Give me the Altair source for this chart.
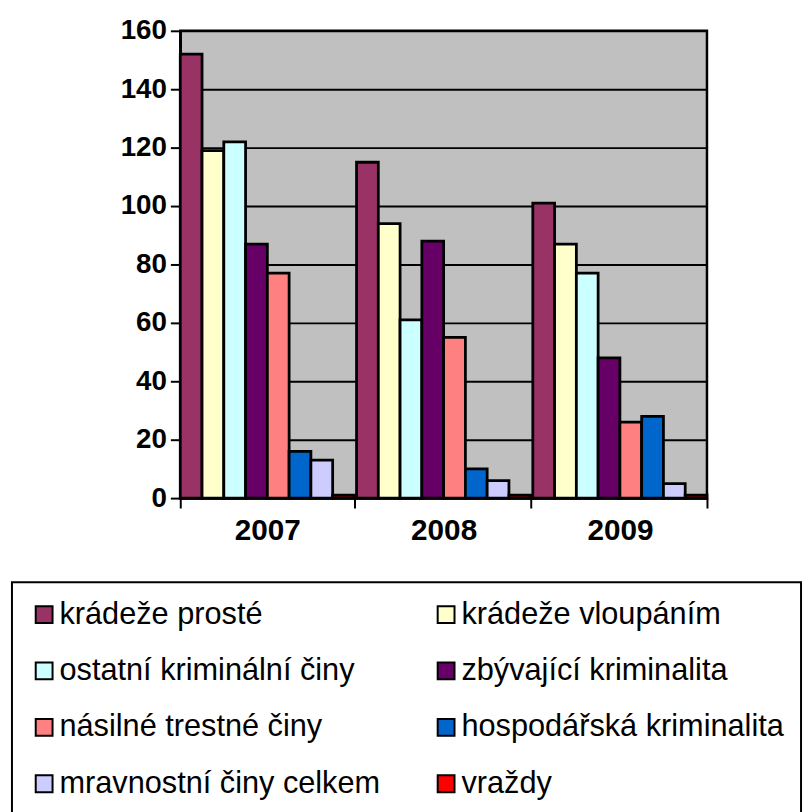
import altair as alt
import pandas as pd

years = ["2007", "2008", "2009"]
series = [
    "krádeže prosté",
    "krádeže vloupáním",
    "ostatní kriminální činy",
    "zbývající kriminalita",
    "násilné trestné činy",
    "hospodářská kriminalita",
    "mravnostní činy celkem",
    "vraždy",
]
colors = ["#993366", "#FFFFCC", "#CCFFFF", "#660066", "#FF8080", "#0066CC", "#CCCCFF", "#FF0000"]

kradeze_proste = [152, 115, 101]
kradeze_vloupanim = [119, 94, 87]
ostatni = [122, 61, 77]
zbyvajici = [87, 88, 48]
nasilne = [77, 55, 26]
hospodarska = [16, 10, 28]
mravnostni = [13, 6, 5]
vrazdy = [1, 1, 1]

values = [kradeze_proste, kradeze_vloupanim, ostatni, zbyvajici, nasilne, hospodarska, mravnostni, vrazdy]

rows = []
for s, vals in zip(series, values):
    for y, v in zip(years, vals):
        rows.append({"rok": y, "řada": s, "hodnota": v})
df = pd.DataFrame(rows)

FONT = "Liberation Sans"

chart = alt.Chart(df).mark_bar(stroke="black", strokeWidth=2.8).encode(
    x=alt.X("rok:N", title=None, sort=years,
            scale=alt.Scale(paddingInner=0.012, paddingOuter=0.0),
            axis=alt.Axis(labelAngle=0, labelFont=FONT, labelFontSize=30, labelFontWeight="bold",
                          labelColor="black", tickBand="extent", tickSize=10, tickWidth=2,
                          tickColor="black", domainColor="black", domainWidth=2.5,
                          labelPadding=8)),
    xOffset=alt.XOffset("řada:N", sort=series, scale=alt.Scale(paddingInner=0, paddingOuter=0)),
    y=alt.Y("hodnota:Q", title=None,
            scale=alt.Scale(domain=[0, 160], nice=False),
            axis=alt.Axis(values=list(range(0, 161, 20)), labelFont=FONT, labelFontSize=28,
                          labelFontWeight="bold", labelColor="black", tickSize=10, tickWidth=2,
                          tickColor="black", domainColor="black", domainWidth=2.5,
                          grid=True, gridColor="black", gridWidth=2, gridOpacity=1,
                          labelPadding=4)),
    color=alt.Color("řada:N", sort=series,
                    scale=alt.Scale(domain=series, range=colors),
                    legend=alt.Legend(title=None, orient="none", legendX=-170, legendY=557,
                                      columns=2, direction="horizontal",
                                      symbolType="square", symbolSize=289,
                                      symbolStrokeColor="black", symbolStrokeWidth=2,
                                      symbolOpacity=1,
                                      labelFont=FONT, labelFontSize=31, labelColor="black",
                                      labelOffset=0, rowPadding=25, columnPadding=51,
                                      padding=17, strokeColor="black",
                                      labelLimit=500)),
).properties(
    width=532,
    height=472,
    autosize=alt.AutoSizeParams(type="none"),
    padding={"left": 174, "top": 19, "right": 98, "bottom": 313},
).configure_view(
    fill="#C0C0C0", stroke="black", strokeWidth=2.5
).configure_legend(
    strokeWidth=2
)

chart.save("out.html", embed_options={"renderer": "svg", "actions": False})
